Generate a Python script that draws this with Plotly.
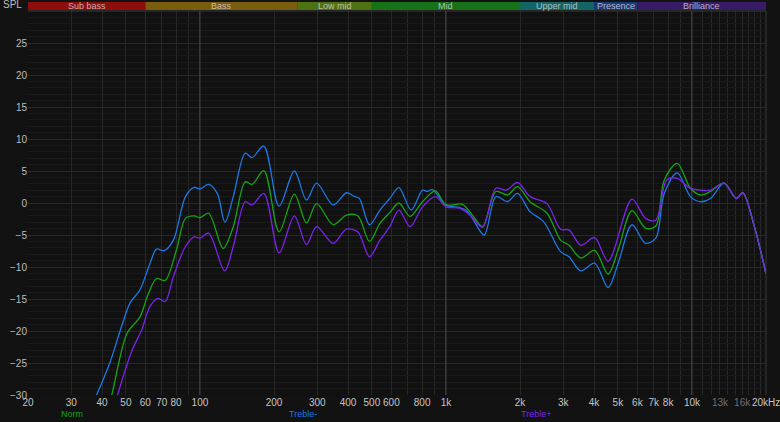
import math
import plotly.graph_objects as go

# ---------------- data ----------------
norm_freq = [40, 44, 50.5, 57, 61.8, 66.6, 72.2, 80.3, 87.3, 94.7, 100, 108.5, 124.3, 136.6,
             152.8, 162.9, 181.8, 209.8, 242, 271, 298, 348, 394, 438, 489, 539, 591, 644,
             714, 803, 906, 1000, 1168, 1281, 1408, 1596, 1780, 1954, 2196, 2574, 2925,
             3165, 3534, 4020, 4563, 5014, 5704, 6480, 7128, 7716, 8717, 9854, 10830, 11900,
             13500, 15160, 16100, 17940, 19980]
norm_db = [-36, -29.7, -20.4, -17.8, -14.1, -11.8, -12.1, -7.3, -2.4, -2.0, -2.3, -1.6, -7.1, -3.7,
           3.3, 2.9, 5.05, -4.5, 1.4, -3.1, -0.1, -3.4, -1.9, -2.0, -6.0, -3.2, -1.5, 0.0,
           -2.1, 0.2, 1.9, -0.3, -0.2, -1.9, -3.7, 1.8, 1.25, 2.55, 0.2, -1.6, -5.8,
           -6.6, -8.6, -7.4, -11.1, -7.3, -1.2, -3.95, -3.6, 3.6, 6.2, 2.3, 1.25, 1.8,
           3.1, 0.7, 1.6, -3.7, -11]

treble_minus_freq = [34, 38, 43, 48, 52, 57, 62.7, 66.6, 71.5, 78, 87.3, 94.7, 100, 108.5, 117.6,
                     126.4, 136.6, 152.8, 162.9, 181.8, 209.8, 242, 271, 298, 348, 394, 426, 445,
                     489, 539, 591, 644, 722, 803, 841, 881, 1000, 1133, 1205, 1281, 1430, 1596,
                     1780, 1954, 2196, 2494, 2925, 3165, 3534, 4020, 4563, 5014, 5704, 6480, 7128,
                     7716, 8717, 9854, 10830, 11900, 13500, 15160, 16100, 17940, 19980]
treble_minus_db = [-34, -30, -25, -19.3, -15.6, -13.6, -9.4, -7.2, -7.45, -5.8, 1.0, 2.45, 2.2, 2.9, 1.5,
                   -3.0, 1.0, 7.8, 7.1, 8.9, -0.5, 5.0, 0.47, 3.1, -0.3, 1.6, 1.0, 0.7,
                   -3.4, -1.1, 0.7, 2.4, -1.1, 2.0, 1.8, 2.1, -0.3, -0.7, -1.1, -2.4, -5.0, 1.0,
                   0.2, 1.5, -1.35, -2.9, -7.6, -8.4, -10.6, -9.4, -13.2, -9.4, -3.4, -6.3, -5.5,
                   1.5, 4.7, 1.0, 0.2, 0.7, 3.1, 0.7, 1.6, -3.7, -11]

treble_plus_freq = [42, 46.5, 53, 58, 62.6, 67.5, 72.2, 78, 87.3, 94.7, 100, 108.5, 126, 136.6,
                    152.8, 162.9, 181.8, 209.8, 242, 271, 298, 348, 394, 438, 489, 539, 591, 644,
                    714, 803, 906, 1000, 1133, 1256, 1408, 1596, 1760, 1954, 2200, 2574, 2925,
                    3165, 3534, 4020, 4563, 5704, 6480, 7128, 7900, 8717, 9700, 10830, 11900,
                    13500, 15160, 16100, 17940, 19980]
treble_plus_db = [-36, -29.7, -23, -19.8, -16.2, -14.9, -15.4, -11.5, -6.8, -5.3, -5.5, -4.7, -10.6, -6.8,
                  0.2, -0.3, 1.5, -7.8, -2.0, -6.5, -3.7, -6.3, -4.1, -4.5, -8.4, -5.8, -3.7, -1.1,
                  -3.7, -0.6, 1.0, -0.6, -0.8, -1.9, -3.8, 2.3, 2.0, 3.2, 1.0, -0.1, -4.1,
                  -4.2, -6.6, -5.4, -9.1, 0.6, -2.4, -2.7, 3.6, 3.85, 2.45, 2.0, 2.0,
                  3.1, 0.7, 1.6, -3.7, -11]

x_tick_vals = [20, 30, 40, 50, 60, 70, 80, 100, 200, 300, 400, 500, 600, 800, 1000,
               2000, 3000, 4000, 5000, 6000, 7000, 8000, 10000, 13000, 16000, 20000]
x_tick_text = ["20", "30", "40", "50", "60", "70", "80", "100", "200", "300", "400", "500",
               "600", "800", "1k", "2k", "3k", "4k", "5k", "6k", "7k", "8k", "10k",
               "<span style='color:#6e6e6e'>13k</span>",
               "<span style='color:#6e6e6e'>16k</span>", ""]
x_end_label = "20kHz"
x_minor_vals = [90, 700, 900, 9000, 11000, 12000, 14000, 15000, 17000, 18000, 19000]
y_tick_vals = [25, 20, 15, 10, 5, 0, -5, -10, -15, -20, -25, -30]
decade_lines = [100, 1000, 10000]

band_names = ["Sub bass", "Bass", "Low mid", "Mid", "Upper mid", "Presence", "Brilliance"]
band_edges = [20, 60, 250, 500, 2000, 4000, 6000, 20000]
band_colors = ["#8e0e0e", "#7a5d0e", "#4e7211", "#177217", "#146565", "#173b7a", "#371b67"]

F_MIN, F_MAX = 20, 20000
Y_MIN, Y_MAX = -30, 30


def fx(f):
    return (math.log10(f) - math.log10(F_MIN)) / (math.log10(F_MAX) - math.log10(F_MIN))


fig = go.Figure()

# decade highlight gridlines
dx, dy = [], []
for d in decade_lines:
    dx += [d, d, None]
    dy += [Y_MIN, Y_MAX, None]
fig.add_trace(go.Scatter(x=dx, y=dy, mode="lines", line=dict(color="#474747", width=1),
                         hoverinfo="skip", showlegend=False))

series = [
    ("Treble-", treble_minus_freq, treble_minus_db, "#1c78e2"),
    ("Norm", norm_freq, norm_db, "#17a317"),
    ("Treble+", treble_plus_freq, treble_plus_db, "#7a24e8"),
]
for name, xs, ys, col in series:
    fig.add_trace(go.Scatter(x=xs, y=ys, mode="lines", name=name,
                             line=dict(color=col, width=1.3, shape="spline", smoothing=0.9),
                             showlegend=False))

shapes = [
    dict(type="line", xref="paper", yref="paper", x0=0, x1=1, y0=1.0, y1=1.0,
         line=dict(color="#3a3a3a", width=1), layer="above"),
    dict(type="line", xref="paper", yref="paper", x0=1, x1=1, y0=0, y1=1.0,
         line=dict(color="#3a3a3a", width=1), layer="below"),
]
annotations = []
for i, name in enumerate(band_names):
    x0, x1 = fx(band_edges[i]), fx(band_edges[i + 1])
    shapes.append(dict(type="rect", xref="paper", yref="paper", x0=x0, x1=x1,
                       y0=1.0025, y1=1.0235, fillcolor=band_colors[i], line=dict(width=0),
                       layer="above"))
    annotations.append(dict(text=name, xref="paper", yref="paper", x=(x0 + x1) / 2, y=1.013,
                            xanchor="center", yanchor="middle", showarrow=False,
                            font=dict(size=9, color="rgba(215,215,215,0.8)",
                                      family="Liberation Sans, Arial")))

annotations.append(dict(text="SPL", xref="paper", yref="paper", x=-0.006, y=1.016,
                        xanchor="right", yanchor="middle", showarrow=False,
                        font=dict(size=10, color="#bdbdbd", family="Liberation Sans, Arial")))

annotations.append(dict(text=x_end_label, xref="paper", yref="paper", x=1.0, y=-0.0208,
                        xanchor="center", yanchor="middle", showarrow=False,
                        font=dict(size=10, color="#c4c4c4", family="Liberation Sans, Arial")))

legend_items = [("Norm", "#17a317", 0.0596), ("Treble-", "#1c78e2", 0.3726),
                ("Treble+", "#7a24e8", 0.688)]
for text, col, px in legend_items:
    annotations.append(dict(text=text, xref="paper", yref="paper", x=px, y=-0.0495,
                            xanchor="center", yanchor="middle", showarrow=False,
                            font=dict(size=9, color=col, family="Liberation Sans, Arial")))

fig.update_layout(
    width=780, height=422,
    margin=dict(l=28, r=14, t=11, b=27, pad=0, autoexpand=False),
    paper_bgcolor="#121212",
    plot_bgcolor="#111111",
    font=dict(family="Liberation Sans, Arial", color="#bdbdbd", size=10),
    shapes=shapes,
    annotations=annotations,
    hovermode=False,
    xaxis=dict(type="log", range=[math.log10(F_MIN), math.log10(F_MAX)], automargin=False,
               tickmode="array", tickvals=x_tick_vals, ticktext=x_tick_text,
               showgrid=True, gridcolor="#272727", gridwidth=1, zeroline=False,
               showline=False, ticks="", tickfont=dict(size=10, color="#c4c4c4"),
               minor=dict(tickmode="array", tickvals=x_minor_vals, showgrid=True,
                          gridcolor="#272727", ticks="")),
    yaxis=dict(range=[Y_MIN, Y_MAX], tickmode="array", tickvals=y_tick_vals, automargin=False,
               showgrid=True, gridcolor="#292929", gridwidth=1, zeroline=False,
               showline=False, ticks="", tickfont=dict(size=10, color="#bdbdbd"),
               minor=dict(dtick=1, showgrid=True, gridcolor="#1a1a1a", ticks="")),
)

fig.write_html("out.html", config={"displayModeBar": False},
               post_script="document.body.style.margin='0';document.body.style.padding='0';"
                           "document.body.style.background='#121212';"
                           "document.body.style.overflow='hidden';")
